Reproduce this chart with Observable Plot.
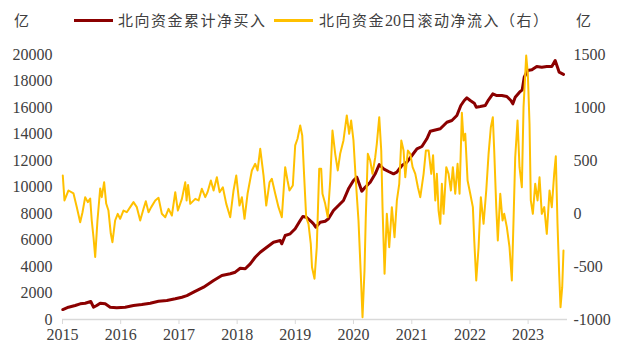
<!DOCTYPE html>
<html><head><meta charset="utf-8">
<script src="https://cdn.jsdelivr.net/npm/d3@7"></script>
<script src="https://cdn.jsdelivr.net/npm/@observablehq/plot@0.6"></script>
<style>
body{margin:0;background:#fff;}
#wrap{position:relative;width:620px;height:359px;overflow:hidden;}
.t{position:absolute;font-family:"Noto Sans CJK SC";font-size:15px;color:#404040;line-height:20px;top:10px;white-space:nowrap;letter-spacing:1.5px;}
.sw{position:absolute;top:19px;height:3px;width:39px;}
.d{font-family:"Liberation Serif";font-size:16px;letter-spacing:0;}
</style></head>
<body><div id="wrap">
<div class="t" style="left:14px;">亿</div>
<div class="sw" style="left:74px;background:#8B0000;"></div>
<div class="t" style="left:118px;">北向资金累计净买入</div>
<div class="sw" style="left:274px;background:#FFC000;"></div>
<div class="t" style="left:319px;">北向资金<span class="d">20</span>日滚动净流入（右）</div>
<div class="t" style="left:576px;">亿</div>
</div>
<script>
// 北向资金累计净买入 (left axis, 亿)
const cumYears = [2015.005,2015.103,2015.218,2015.304,2015.390,2015.486,2015.533,2015.589,2015.648,2015.734,2015.820,2015.933,2016.077,2016.220,2016.363,2016.507,2016.649,2016.792,2016.936,2017.050,2017.136,2017.251,2017.423,2017.595,2017.737,2017.881,2017.967,2018.053,2018.139,2018.225,2018.311,2018.397,2018.510,2018.625,2018.741,2018.768,2018.826,2018.912,2018.998,2019.084,2019.129,2019.187,2019.284,2019.313,2019.352,2019.428,2019.514,2019.570,2019.656,2019.742,2019.828,2019.914,2020.000,2020.057,2020.098,2020.143,2020.201,2020.287,2020.373,2020.442,2020.515,2020.601,2020.687,2020.744,2020.830,2020.916,2021.002,2021.088,2021.174,2021.259,2021.318,2021.404,2021.490,2021.603,2021.689,2021.775,2021.843,2021.902,2021.947,2022.005,2022.074,2022.108,2022.177,2022.263,2022.320,2022.393,2022.462,2022.548,2022.634,2022.703,2022.737,2022.778,2022.852,2022.899,2022.933,2022.990,2023.064,2023.149,2023.235,2023.321,2023.407,2023.465,2023.505,2023.534,2023.608];
const cumValues = [750,930,1057,1185,1230,1358,930,1057,1230,1185,930,880,930,1057,1132,1230,1380,1434,1560,1683,1800,2060,2440,2943,3320,3450,3570,3870,3826,4200,4700,5080,5456,5834,5962,5713,6340,6468,6845,7472,7773,7720,7343,7222,6966,7343,7419,7600,8226,8604,8981,9864,10490,10740,10240,9683,9985,10362,10995,11698,11373,11170,10995,11117,11622,11871,12377,12883,13056,13638,14211,14300,14392,14890,15019,15396,16150,16528,16730,16528,16327,16025,16075,16150,16579,17032,16905,16905,16830,16528,16276,16777,17154,17335,18286,18792,18845,19094,19044,19094,19094,19547,19044,18664,18500];

// 北向资金20日滚动净流入 (right axis, 亿)
const flowYears = [2015.005,2015.034,2015.103,2015.189,2015.246,2015.304,2015.344,2015.390,2015.435,2015.476,2015.503,2015.533,2015.562,2015.601,2015.648,2015.675,2015.716,2015.751,2015.790,2015.830,2015.859,2015.905,2015.950,2015.991,2016.048,2016.105,2016.163,2016.220,2016.277,2016.335,2016.392,2016.431,2016.478,2016.524,2016.593,2016.649,2016.706,2016.765,2016.821,2016.878,2016.936,2016.981,2017.050,2017.108,2017.131,2017.156,2017.194,2017.280,2017.337,2017.393,2017.452,2017.491,2017.548,2017.595,2017.651,2017.698,2017.754,2017.813,2017.881,2017.938,2017.985,2018.041,2018.081,2018.127,2018.179,2018.253,2018.311,2018.351,2018.397,2018.454,2018.500,2018.557,2018.596,2018.655,2018.711,2018.768,2018.826,2018.866,2018.900,2018.957,2018.998,2019.038,2019.084,2019.119,2019.153,2019.187,2019.227,2019.266,2019.287,2019.330,2019.369,2019.411,2019.445,2019.467,2019.514,2019.558,2019.600,2019.639,2019.686,2019.730,2019.771,2019.828,2019.885,2019.926,2019.960,2020.000,2020.040,2020.086,2020.125,2020.155,2020.189,2020.211,2020.246,2020.287,2020.326,2020.373,2020.400,2020.442,2020.476,2020.498,2020.533,2020.572,2020.613,2020.658,2020.704,2020.744,2020.785,2020.820,2020.859,2020.888,2020.933,2020.974,2021.014,2021.060,2021.105,2021.146,2021.203,2021.242,2021.289,2021.335,2021.366,2021.404,2021.431,2021.460,2021.490,2021.517,2021.546,2021.593,2021.632,2021.672,2021.706,2021.747,2021.787,2021.821,2021.861,2021.890,2021.919,2021.959,2022.005,2022.050,2022.074,2022.108,2022.148,2022.187,2022.234,2022.280,2022.320,2022.359,2022.393,2022.417,2022.452,2022.479,2022.521,2022.560,2022.589,2022.634,2022.680,2022.720,2022.749,2022.778,2022.818,2022.852,2022.892,2022.921,2022.967,2022.995,2023.024,2023.046,2023.081,2023.122,2023.162,2023.196,2023.235,2023.277,2023.321,2023.368,2023.407,2023.448,2023.476,2023.505,2023.534,2023.557,2023.586,2023.608];
const flowValues = [358,123,217,189,60,-82,12,154,107,141,-66,-224,-410,-66,236,154,295,94,28,-189,-271,-66,-3,-50,28,12,60,107,60,-66,44,116,12,60,123,148,-3,-35,44,-19,201,28,138,295,123,270,91,138,123,233,154,201,311,217,342,201,248,91,-35,217,358,75,154,-50,186,406,469,406,610,358,75,295,327,186,60,-35,437,311,217,264,642,705,830,736,342,-35,-100,-286,-507,-616,-318,422,422,186,91,-35,311,783,563,406,563,689,925,752,877,689,311,-66,-569,-978,-538,-35,563,500,374,531,657,909,594,60,-569,-3,-318,60,-224,123,280,689,594,342,594,563,437,374,248,154,374,594,594,374,550,123,374,28,-97,280,-3,437,374,217,437,186,469,186,950,689,752,311,186,60,-255,-632,-318,154,-97,217,563,814,909,594,60,-255,186,-66,-3,-129,-318,-632,-66,531,877,437,248,1003,1490,1318,846,123,-3,280,123,342,-3,60,-192,217,60,374,540,-97,-569,-884,-695,-349];

const leftTicks = [0,2000,4000,6000,8000,10000,12000,14000,16000,18000,20000];
const rightTicks = [-1000,-500,0,500,1000,1500];
const yearTicks = [2015,2016,2017,2018,2019,2020,2021,2022,2023];

function toDate(y){
  const yr = Math.floor(y);
  const s = Date.UTC(yr,0,1), e = Date.UTC(yr+1,0,1);
  return new Date(s + (y-yr)*(e-s));
}
// right axis [-1000,1500] mapped onto left axis [0,20000]
const toLeft = v => (v + 1000) * 8;
const fromLeft = v => v / 8 - 1000;

const cum = cumYears.map((y,i)=>({date:toDate(y), v:cumValues[i]}));
const flow = flowYears.map((y,i)=>({date:toDate(y), v:toLeft(flowValues[i])}));

const chart = Plot.plot({
  width:620, height:359,
  marginTop:54, marginBottom:40, marginLeft:62, marginRight:53,
  x:{type:"utc", domain:[toDate(2015), toDate(2023.677)]},
  y:{domain:[0,20000]},
  style:{fontFamily:"Liberation Serif", fontSize:"16px", color:"#404040", background:"transparent", overflow:"visible"},
  marks:[
    Plot.axisY({ticks:leftTicks, tickSize:0, tickPadding:10, label:null, tickFormat:d=>String(d), fill:"#404040"}),
    Plot.axisY({anchor:"right", ticks:rightTicks.map(toLeft), tickFormat:d=>String(Math.round(fromLeft(d))), tickSize:0, tickPadding:6, label:null, fill:"#404040"}),
    Plot.ruleY([0], {stroke:"#d9d9d9", strokeWidth:1.3}),
    Plot.axisX({ticks:yearTicks.map(toDate), tickFormat:d3.utcFormat("%Y"), tickSize:5, tickPadding:4, stroke:"#d9d9d9", fill:"#404040", label:null}),
    Plot.line(cum, {x:"date", y:"v", stroke:"#8B0000", strokeWidth:3, curve:"linear"}),
    Plot.line(flow, {x:"date", y:"v", stroke:"#FFC000", strokeWidth:2, curve:"linear"})
  ]
});
chart.style.position = "absolute";
chart.style.left = "0px";
chart.style.top = "0px";
document.getElementById("wrap").prepend(chart);
</script>
</body></html>
